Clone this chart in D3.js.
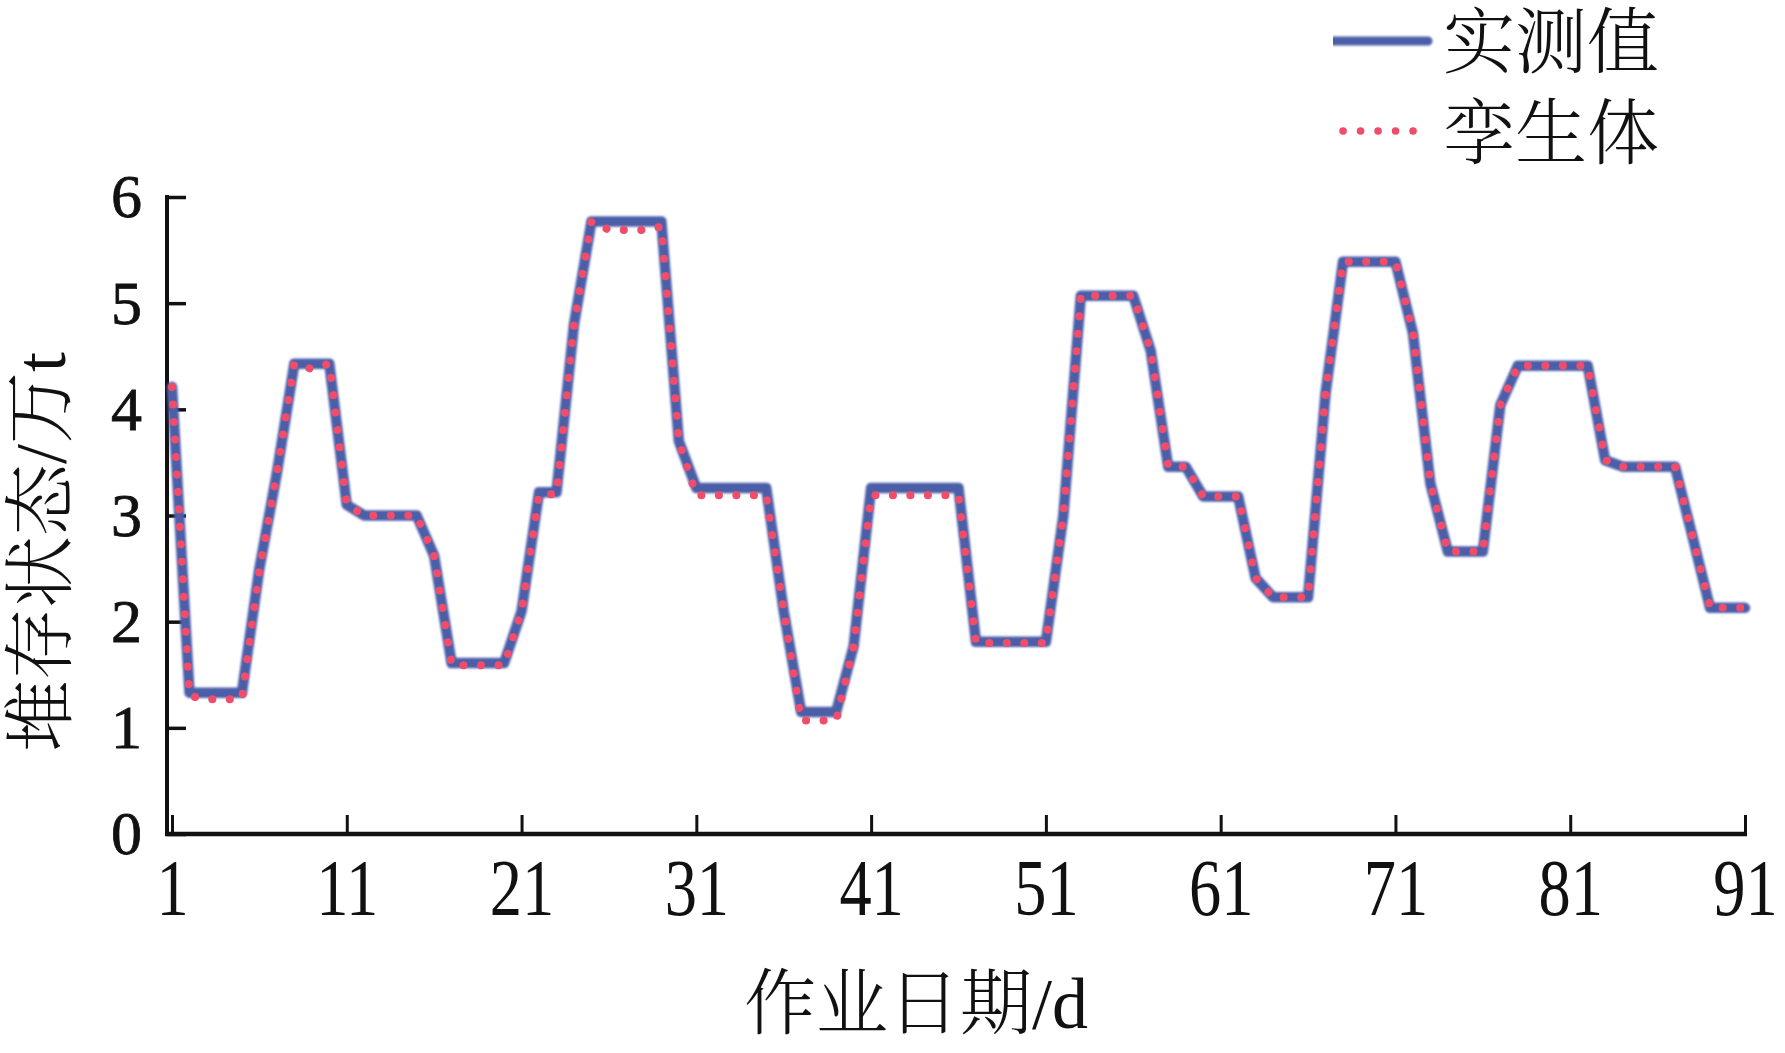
<!DOCTYPE html>
<meta charset="utf-8">
<style>
body { margin: 0; background: #fff; }
.tick text { font-family: "Liberation Serif", "Times New Roman", serif; fill: #111; }
.cjk { font-family: "Liberation Serif", "Noto Serif CJK SC", "Noto Sans CJK SC", serif; font-weight: 300; fill: #111; }
</style>
<svg width="1785" height="1053"></svg>
<script src="https://d3js.org/d3.v7.min.js"></script>
<script>

// days 1..91
var days = d3.range(1, 92);

// 实测值
var measured = [
  4.21, 1.33, 1.33, 1.33, 1.33, 2.50, 3.40, 4.43, 4.43, 4.43,
  3.10, 3.00, 3.00, 3.00, 3.00, 2.62, 1.61, 1.61, 1.61, 1.61,
  2.10, 3.22, 3.22, 4.80, 5.77, 5.77, 5.77, 5.77, 5.77, 3.70,
  3.26, 3.26, 3.26, 3.26, 3.26, 2.10, 1.15, 1.15, 1.15, 1.77,
  3.26, 3.26, 3.26, 3.26, 3.26, 3.26, 1.81, 1.81, 1.81, 1.81,
  1.81, 3.00, 5.07, 5.07, 5.07, 5.07, 4.55, 3.46, 3.46, 3.18,
  3.18, 3.18, 2.41, 2.23, 2.23, 2.23, 4.15, 5.39, 5.39, 5.39,
  5.39, 4.72, 3.30, 2.66, 2.66, 2.66, 4.04, 4.41, 4.41, 4.41,
  4.41, 4.41, 3.52, 3.46, 3.46, 3.46, 3.46, 2.80, 2.13, 2.13,
  2.13
];

// 孪生体
var twin = [
  4.21, 1.30, 1.27, 1.27, 1.27, 2.48, 3.40, 4.43, 4.38, 4.43,
  3.10, 3.00, 3.00, 3.00, 3.00, 2.62, 1.59, 1.59, 1.59, 1.59,
  2.10, 3.20, 3.20, 4.80, 5.77, 5.69, 5.69, 5.69, 5.72, 3.70,
  3.19, 3.19, 3.19, 3.19, 3.19, 2.10, 1.07, 1.07, 1.07, 1.77,
  3.19, 3.19, 3.19, 3.19, 3.19, 3.19, 1.80, 1.80, 1.80, 1.80,
  1.80, 3.00, 5.07, 5.07, 5.07, 5.07, 4.55, 3.46, 3.46, 3.18,
  3.18, 3.18, 2.41, 2.23, 2.23, 2.23, 4.15, 5.39, 5.39, 5.39,
  5.39, 4.72, 3.30, 2.66, 2.66, 2.66, 4.04, 4.41, 4.41, 4.41,
  4.41, 4.41, 3.52, 3.46, 3.46, 3.46, 3.46, 2.80, 2.13, 2.13,
  2.13
];

var xTicks = [1, 11, 21, 31, 41, 51, 61, 71, 81, 91];
var yTicks = [0, 1, 2, 3, 4, 5, 6];
var seriesNames = ["实测值", "孪生体"];

var svg = d3.select("svg");

var plotLeft = 167, plotRight = 1747, plotTop = 197, plotBottom = 834;

var x = d3.scaleLinear().domain([1, 91]).range([172, 1745]);
var y = d3.scaleLinear().domain([0, 6]).range([plotBottom, plotTop]);

var blue = "#4c5fa9", red = "#ef4d6b";

var defs = svg.append("defs");
defs.append("filter").attr("id", "soft")
    .attr("filterUnits", "userSpaceOnUse")
    .attr("x", 0).attr("y", 0).attr("width", 1785).attr("height", 1053)
  .append("feGaussianBlur").attr("stdDeviation", 0.9);

// axes
svg.append("g")
    .attr("transform", "translate(" + plotLeft + ",0)")
    .call(d3.axisLeft(y).tickValues(yTicks).tickFormat(d3.format("d")).tickSize(-19).tickPadding(25))
    .call(function(g) { g.select(".domain").remove(); })
    .call(function(g) {
      g.selectAll(".tick line").attr("stroke", "#111").attr("stroke-width", 3.5);
      g.selectAll(".tick text").attr("font-size", 62).attr("stroke", "#111").attr("stroke-width", 0.8);
    });

svg.append("g")
    .attr("transform", "translate(0," + plotBottom + ")")
    .call(d3.axisBottom(x).tickValues(xTicks).tickSize(-19).tickPadding(21))
    .call(function(g) { g.select(".domain").remove(); })
    .call(function(g) {
      g.selectAll(".tick line").attr("stroke", "#111").attr("stroke-width", 3);
      g.selectAll(".tick text").attr("font-size", 70)
          .attr("transform", "scale(0.92,1.15)");
    });

svg.append("line")
    .attr("x1", plotLeft).attr("x2", plotLeft)
    .attr("y1", plotTop - 2).attr("y2", plotBottom + 2)
    .attr("stroke", "#111").attr("stroke-width", 4);
svg.append("line")
    .attr("x1", plotLeft - 2).attr("x2", plotRight)
    .attr("y1", plotBottom).attr("y2", plotBottom)
    .attr("stroke", "#111").attr("stroke-width", 4.5);

// lines
var line = d3.line()
    .x(function(d) { return x(d[0]); })
    .y(function(d) { return y(d[1]); });

svg.append("path")
    .datum(days.map(function(d, i) { return [d, measured[i]]; }))
    .attr("fill", "none")
    .attr("stroke", blue)
    .attr("stroke-width", 10.5)
    .attr("stroke-linejoin", "round")
    .attr("stroke-linecap", "round")
    .attr("filter", "url(#soft)")
    .attr("d", line);

svg.append("path")
    .datum(days.map(function(d, i) { return [d, twin[i]]; }))
    .attr("fill", "none")
    .attr("stroke", red)
    .attr("stroke-width", 8)
    .attr("stroke-linecap", "round")
    .attr("stroke-dasharray", "0.1 17.4")
    .attr("d", line);

// axis titles
svg.append("text")
    .attr("class", "cjk")
    .attr("transform", "translate(65,552) rotate(-90)")
    .attr("text-anchor", "middle")
    .attr("font-size", 72)
    .text("堆存状态/万t");

svg.append("text")
    .attr("class", "cjk")
    .attr("x", 916).attr("y", 1028)
    .attr("text-anchor", "middle")
    .attr("font-size", 72)
    .text("作业日期/d");

// legend
var legend = svg.append("g").attr("transform", "translate(1333,0)");

legend.append("line")
    .attr("x1", 0).attr("x2", 95).attr("y1", 41).attr("y2", 41)
    .attr("stroke", blue).attr("stroke-width", 9).attr("stroke-linecap", "round")
    .attr("filter", "url(#soft)");
legend.append("line")
    .attr("x1", 10).attr("x2", 85).attr("y1", 131).attr("y2", 131)
    .attr("stroke", red).attr("stroke-width", 7.5).attr("stroke-linecap", "round")
    .attr("stroke-dasharray", "0.1 17.4");

legend.selectAll("text.lg")
  .data(seriesNames)
  .enter().append("text")
    .attr("class", "cjk lg")
    .attr("x", 110)
    .attr("y", function(d, i) { return 67 + i * 91; })
    .attr("font-size", 72)
    .text(function(d) { return d; });

</script>
